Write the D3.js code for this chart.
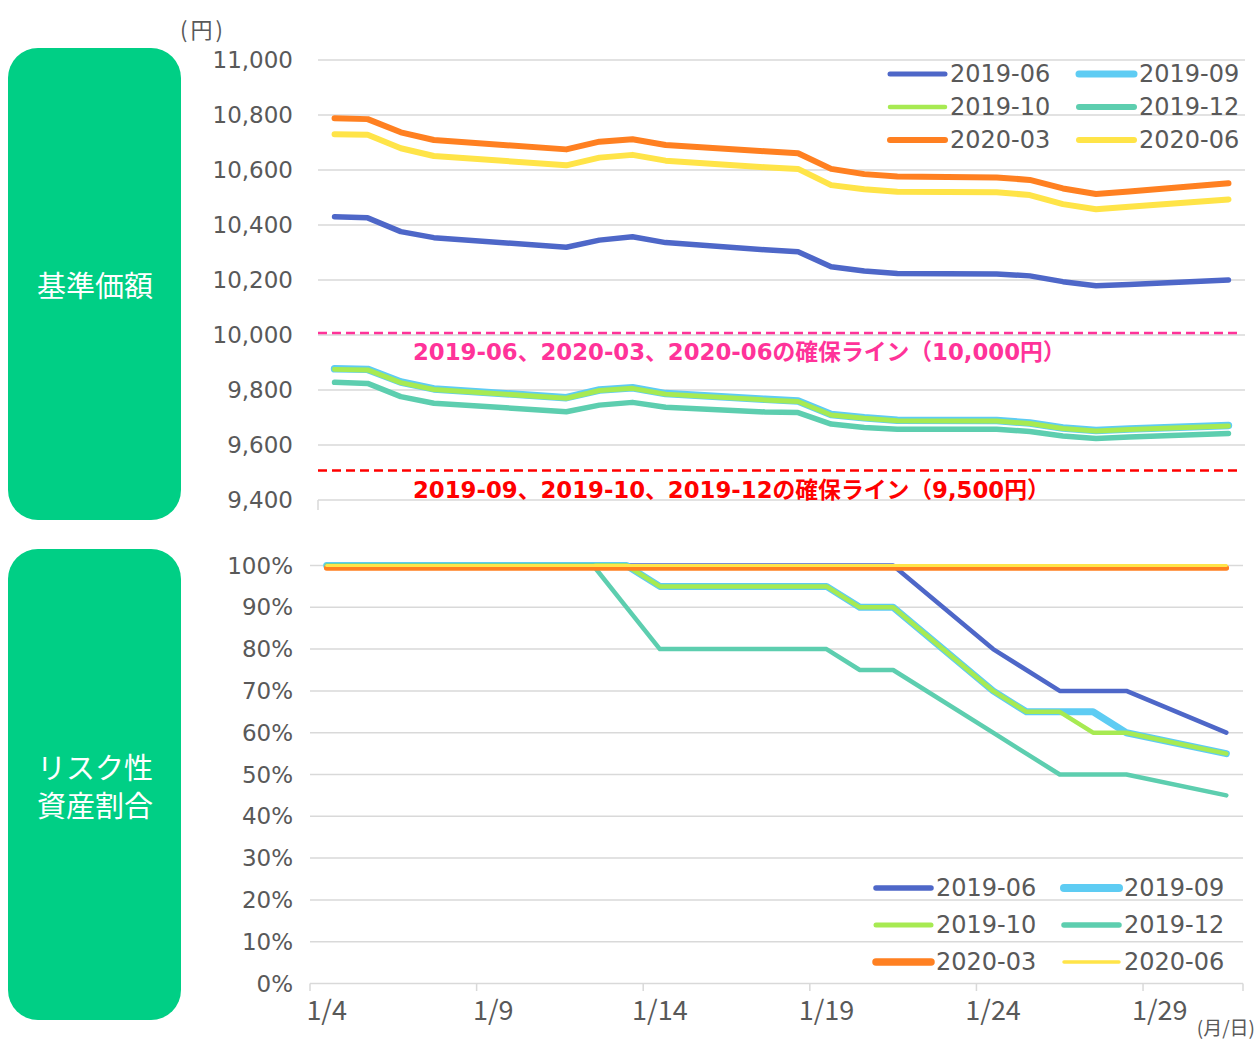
<!DOCTYPE html>
<html>
<head>
<meta charset="utf-8">
<script src="https://cdn.jsdelivr.net/npm/d3@7"></script>
<style>
  body { margin: 0; background: #fff; }
  text { font-family: "DejaVu Sans", "Noto Sans CJK JP", sans-serif; }
</style>
</head>
<body>
<svg id="chart" width="1259" height="1039"></svg>
<script>
//Business days of January 2022
var days = ['1/4','1/5','1/6','1/7','1/11','1/12','1/13','1/14','1/17','1/18','1/19','1/20','1/21','1/24','1/25','1/26','1/27','1/28','1/31'];
var series = ['2019-06','2019-09','2019-10','2019-12','2020-03','2020-06'];
var colors = ['#4E67C8','#5ECCF3','#A7EA52','#5DCEAF','#FF8021','#FFE448'];
var xTickLabels = ['1/4','1/9','1/14','1/19','1/24','1/29'];

//基準価額 (円)
var nav0619 = [10430,10426,10376,10354,10319,10345,10357,10336,10310,10303,10248,10233,10224,10222,10215,10194,10179,10184,10200];
var nav1909 = [9877,9875,9829,9804,9772,9800,9808,9787,9766,9760,9711,9699,9690,9689,9680,9662,9653,9658,9671];
var nav1910 = [9875,9873,9827,9802,9770,9798,9806,9785,9764,9758,9709,9697,9688,9687,9678,9660,9651,9656,9669];
var nav1912 = [9828,9824,9776,9752,9721,9745,9755,9737,9720,9718,9676,9664,9657,9657,9649,9633,9624,9629,9642];
var nav2003 = [10788,10785,10737,10709,10675,10703,10712,10691,10668,10661,10604,10585,10576,10573,10564,10533,10513,10522,10552];
var nav2006 = [10730,10728,10679,10651,10617,10645,10655,10634,10610,10604,10545,10530,10521,10519,10509,10476,10457,10466,10493];
var navTicks = [9400,9600,9800,10000,10200,10400,10600,10800,11000];
var floorValues = [10000, 9500];
var floorLabels = ['2019-06、2020-03、2020-06の確保ライン（10,000円）', '2019-09、2019-10、2019-12の確保ライン（9,500円）'];
var floorColors = ['#FF3399', '#FF0000'];

//リスク性資産割合 (%)
var risk0619 = [100,100,100,100,100,100,100,100,100,100,100,100,100,80,75,70,70,70,60];
var risk1909 = [100,100,100,100,100,100,100,95,95,95,95,90,90,70,65,65,65,60,55];
var risk1910 = [100,100,100,100,100,100,100,95,95,95,95,90,90,70,65,65,60,60,55];
var risk1912 = [100,100,100,100,100,100,90,80,80,80,80,75,75,60,55,50,50,50,45];
var risk2003 = [99.4,99.4,99.4,99.4,99.4,99.4,99.4,99.4,99.4,99.4,99.4,99.4,99.4,99.4,99.4,99.4,99.4,99.4,99.4];
var risk2006 = [100,100,100,100,100,100,100,100,100,100,100,100,100,100,100,100,100,100,100];
var riskTicks = [0,10,20,30,40,50,60,70,80,90,100];

var svg = d3.select('#chart');
var grid = '#D9D9D9', textColor = '#595959';

function toDate(s) {
  var p = s.split('/');
  return new Date(2022, +p[0] - 1, +p[1]);
}
var dayDates = days.map(toDate);
var first = d3.timeHour.offset(dayDates[0], -12);
var last = d3.timeHour.offset(dayDates[dayDates.length - 1], 12);

//Side boxes
var boxes = [
  {y: 48, h: 472, lines: ['基準価額']},
  {y: 549, h: 471, lines: ['リスク性', '資産割合']}
];
boxes.forEach(function(b) {
  svg.append('rect').attr('x', 8).attr('y', b.y).attr('width', 173).attr('height', b.h)
    .attr('rx', 30).attr('fill', '#00CF85');
  b.lines.forEach(function(t, i) {
    svg.append('text').attr('x', 95)
      .attr('y', b.y + b.h / 2 - (b.lines.length - 1) * 19 + i * 38)
      .attr('text-anchor', 'middle').attr('dominant-baseline', 'central')
      .attr('font-size', 29).attr('fill', '#fff')
      .style('font-family', '"Noto Sans CJK JP", sans-serif')
      .text(t);
  });
});

//Legend helper
function legend(x0, x1, y0, gap, widths) {
  series.forEach(function(s, i) {
    var col = i % 2, row = Math.floor(i / 2);
    var lx = col ? x1 : x0, ly = y0 + row * gap;
    svg.append('line').attr('x1', lx).attr('x2', lx + 55).attr('y1', ly).attr('y2', ly)
      .attr('stroke', colors[i]).attr('stroke-width', widths[i]).attr('stroke-linecap', 'round');
    svg.append('text').attr('x', lx + 60).attr('y', ly).attr('dominant-baseline', 'central')
      .attr('font-size', 24).attr('fill', textColor).text(s);
  });
}

//----- Top chart: 基準価額 -----
var xTop = d3.scaleTime().domain([first, last]).range([318, 1245]);
var yTop = d3.scaleLinear().domain([9400, 11000]).range([500, 60]);

svg.append('g').selectAll('line').data(navTicks).enter().append('line')
  .attr('x1', 318).attr('x2', 1245)
  .attr('y1', function(d) { return yTop(d); }).attr('y2', function(d) { return yTop(d); })
  .attr('stroke', grid).attr('stroke-width', 1.5);
svg.append('line').attr('x1', 318).attr('x2', 318).attr('y1', 500).attr('y2', 510)
  .attr('stroke', grid).attr('stroke-width', 1.5);
svg.append('g').selectAll('text').data(navTicks).enter().append('text')
  .attr('x', 293).attr('y', function(d) { return yTop(d); })
  .attr('text-anchor', 'end').attr('dominant-baseline', 'central')
  .attr('font-size', 23).attr('fill', textColor)
  .text(function(d) { return d3.format(',')(d); });
svg.append('text').attr('x', 180).attr('y', 28).attr('dominant-baseline', 'central')
  .attr('font-size', 22).attr('letter-spacing', 3).attr('fill', textColor)
  .style('font-family', '"Noto Sans CJK JP", sans-serif').text('(円)');

//Floor lines
floorValues.forEach(function(v, i) {
  svg.append('line').attr('x1', 318).attr('x2', 1240)
    .attr('y1', yTop(v) - 2).attr('y2', yTop(v) - 2)
    .attr('stroke', floorColors[i]).attr('stroke-width', 2.5).attr('stroke-dasharray', '9,5');
  svg.append('text').attr('x', 413).attr('y', yTop(v) + 17).attr('dominant-baseline', 'central')
    .attr('font-size', 22.8).attr('font-weight', 'bold').attr('fill', floorColors[i])
    .text(floorLabels[i]);
});

var navData = [nav0619, nav1909, nav1910, nav1912, nav2003, nav2006];
var navWidths = [5.5, 7.5, 5, 5.5, 6, 6];
var lineTop = d3.line()
  .x(function(d, i) { return xTop(dayDates[i]); })
  .y(function(d) { return yTop(d); });
navData.forEach(function(vals, i) {
  svg.append('path').datum(vals).attr('d', lineTop).attr('fill', 'none')
    .attr('stroke', colors[i]).attr('stroke-width', navWidths[i])
    .attr('stroke-linecap', 'round').attr('stroke-linejoin', 'round');
});
legend(890, 1079, 74, 33, [5, 7, 4.5, 6, 6, 6]);

//----- Bottom chart: リスク性資産割合 -----
var xBot = d3.scaleTime().domain([first, last]).range([310, 1243]);
var yBot = d3.scaleLinear().domain([0, 100]).range([983.5, 565.5]);

svg.append('g').selectAll('line').data(riskTicks).enter().append('line')
  .attr('x1', 310).attr('x2', 1243)
  .attr('y1', function(d) { return yBot(d); }).attr('y2', function(d) { return yBot(d); })
  .attr('stroke', grid).attr('stroke-width', 1.5);
svg.append('g').selectAll('text').data(riskTicks).enter().append('text')
  .attr('x', 293).attr('y', function(d) { return yBot(d); })
  .attr('text-anchor', 'end').attr('dominant-baseline', 'central')
  .attr('font-size', 23).attr('fill', textColor)
  .text(function(d) { return d + '%'; });

//x axis ticks sit between days, labels on the day
var tickDates = xTickLabels.map(toDate);
var tickEdges = tickDates.map(function(d) { return d3.timeHour.offset(d, -12); }).concat([last]);
svg.append('g').selectAll('line').data(tickEdges).enter().append('line')
  .attr('x1', function(d) { return xBot(d); }).attr('x2', function(d) { return xBot(d); })
  .attr('y1', 983.5).attr('y2', 991)
  .attr('stroke', grid).attr('stroke-width', 1.5);
svg.append('g').selectAll('text').data(tickDates).enter().append('text')
  .attr('x', function(d) { return xBot(d); }).attr('y', 1008)
  .attr('text-anchor', 'middle').attr('dominant-baseline', 'central')
  .attr('font-size', 27).attr('fill', textColor)
  .style('font-family', '"Liberation Sans Narrow", "Noto Sans CJK JP", sans-serif')
  .text(function(d, i) { return xTickLabels[i]; });
svg.append('text').attr('x', 1255).attr('y', 1026).attr('text-anchor', 'end')
  .attr('dominant-baseline', 'central').attr('font-size', 19).attr('fill', textColor)
  .style('font-family', '"Noto Sans CJK JP", sans-serif').text('(月/日)');

var riskData = [risk0619, risk1909, risk1910, risk1912, risk2003, risk2006];
var riskWidths = [4.5, 7, 4.5, 4.5, 5.5, 3];
var lineBot = d3.line()
  .x(function(d, i) { return xBot(dayDates[i]); })
  .y(function(d) { return yBot(d); });
riskData.forEach(function(vals, i) {
  svg.append('path').datum(vals).attr('d', lineBot).attr('fill', 'none')
    .attr('stroke', colors[i]).attr('stroke-width', riskWidths[i])
    .attr('stroke-linecap', 'round').attr('stroke-linejoin', 'round');
});
legend(876, 1064, 888, 37, [5.5, 8, 5, 5.5, 7.5, 3.5]);
</script>
</body>
</html>
